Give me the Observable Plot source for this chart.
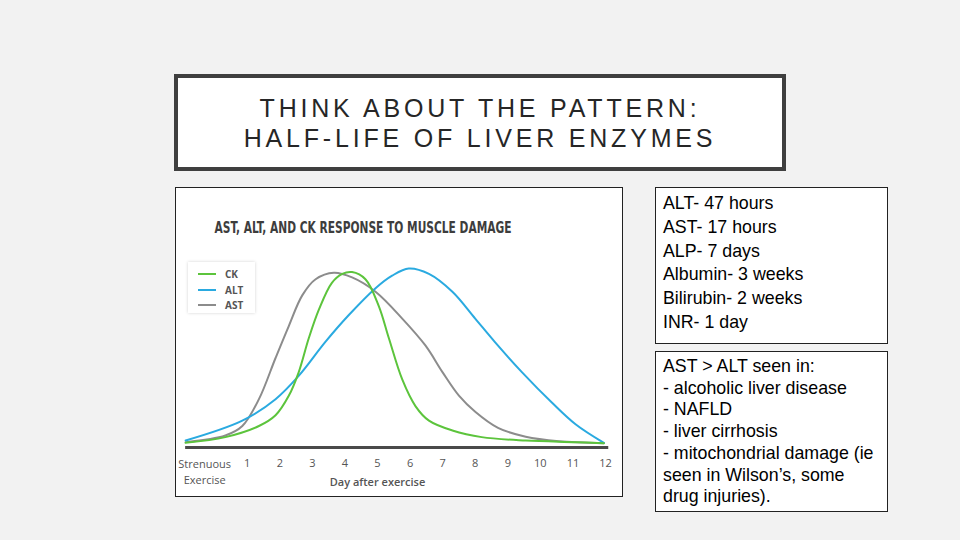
<!DOCTYPE html>
<html><head><meta charset="utf-8">
<script src="https://cdn.jsdelivr.net/npm/d3@7"></script>
<script src="https://cdn.jsdelivr.net/npm/@observablehq/plot@0.6"></script>
<style>
html,body{margin:0;padding:0;background:#f2f2f2;}
#slide{position:relative;width:960px;height:540px;background:#f2f2f2;overflow:hidden;font-family:"Liberation Sans",Arial,sans-serif;}
#titlebox{position:absolute;left:174px;top:74px;width:604px;height:89px;border:4px solid #3f3f3f;background:#fff;}
#titlebox div{position:absolute;left:0;right:0;text-align:center;font-size:25px;letter-spacing:3.8px;color:#262626;line-height:30px;white-space:nowrap;}
#chartbox{position:absolute;left:175px;top:187px;width:448px;height:310px;border:1px solid #222;background:#fff;box-sizing:border-box;overflow:hidden;}
#chartbox svg{position:absolute;left:0;top:0;}
#legend{position:absolute;left:12px;top:74px;width:67px;height:51px;background:#fff;box-shadow:0 0 3px rgba(0,0,0,0.18);}
.lg{position:absolute;left:10px;height:12px;font:bold 10px "Open Sans","DejaVu Sans",sans-serif;color:#555;}
.lg span.ln{position:absolute;left:0;top:5px;width:18px;height:2px;}
.lg span.tx{position:absolute;left:27px;top:-1px;}
.box{position:absolute;left:655px;width:233px;background:#fff;border:1px solid #222;box-sizing:border-box;font-size:17.8px;color:#000;padding-left:7px;white-space:nowrap;}
</style></head>
<body>
<div id="slide">
  <div id="titlebox">
    <div style="top:15px">THINK ABOUT THE PATTERN:</div>
    <div style="top:45px">HALF-LIFE OF LIVER ENZYMES</div>
  </div>
  <div id="chartbox"></div>
  <div class="box" id="box1" style="top:187px;height:157px;line-height:23.8px;padding-top:4px;"></div>
  <div class="box" id="box2" style="top:351px;height:161px;line-height:21.7px;padding-top:4px;"></div>
</div>
<script>
// ---- data ----
const chartTitle = "AST, ALT, AND CK RESPONSE TO MUSCLE DAMAGE";
const seriesNames = ["CK", "ALT", "AST"];
const seriesColors = ["#5cc43c", "#2aaae0", "#8c8c8c"];
const dayTicks = [1,2,3,4,5,6,7,8,9,10,11,12];
const startLabel = "Strenuous\nExercise";
const xLabel = "Day after exercise";

const altDays = [-0.89,0.85,1.87,2.58,3.4,4.12,4.94,5.45,5.96,6.58,7.3,8.0,8.6,9.44,10.36,11.08,11.95];
const altVals = [3.9,15,27,40,59,74,89,96,100,97,87,72,59,42,25,13,2.6];

const astDays = [-0.89,0.33,0.85,1.36,1.87,2.28,2.69,3.1,3.66,4.22,4.94,5.76,6.47,7.0,7.5,8.0,8.7,9.55,10.57,11.95];
const astVals = [3,6.7,12,27,50,68,85,94,97.6,95,87,72,57,42,29,20,11,6,3.5,2.4];

const ckDays = [-0.89,0.33,1.36,1.87,2.28,2.58,2.89,3.2,3.6,3.92,4.22,4.63,5.04,5.35,5.76,6.17,6.58,7.3,8.2,9.55,11.08,11.95];
const ckVals = [2.6,5.8,12,18,29,42,61,77,92,97,98,94,79,61,38,23,15,9.5,5.8,3.9,3,2.4];

const halfLifeLines = ["ALT- 47 hours","AST- 17 hours","ALP- 7 days","Albumin- 3 weeks","Bilirubin- 2 weeks","INR- 1 day"];
const astAltLines = ["AST &gt; ALT seen in:","- alcoholic liver disease","- NAFLD","- liver cirrhosis","- mitochondrial damage (ie","seen in Wilson’s, some","drug injuries)."];

// ---- build tables ----
const rows = [];
ckDays.forEach((d,i)=>rows.push({series:"CK", day:d, value:ckVals[i]}));
altDays.forEach((d,i)=>rows.push({series:"ALT", day:d, value:altVals[i]}));
astDays.forEach((d,i)=>rows.push({series:"AST", day:d, value:astVals[i]}));
const drawOrder = ["AST","ALT","CK"];
const ordered = drawOrder.flatMap(s => rows.filter(r => r.series === s));

const axisStart = d3.min(rows, r => r.day);
const axisEnd = 12.1;

const tickFont = "'Open Sans','DejaVu Sans',sans-serif";

const plot = Plot.plot({
  width: 446,
  height: 308,
  margin: 0,
  style: {background: "transparent", overflow: "visible"},
  x: {domain: [1, 12], range: [70.7, 429], axis: null},
  y: {domain: [0, 100], range: [259, 80], axis: null},
  color: {domain: seriesNames, range: seriesColors},
  marks: [
    Plot.line(ordered, {x: "day", y: "value", z: "series", stroke: "series", strokeWidth: 2, curve: "catmull-rom"}),
    Plot.ruleY([0], {x1: axisStart, x2: axisEnd, stroke: "#4a4a4a", strokeWidth: 3}),
    Plot.text(dayTicks, {x: d => d, y: 0, dy: 16, text: d => String(d), fontSize: 11, fill: "#555", fontFamily: tickFont}),
    Plot.text([startLabel], {x: 0, y: 0, dx: -10, dy: 9, text: d => d, lineAnchor: "top", lineHeight: 1.45, fontSize: 11, fill: "#555", fontFamily: tickFont}),
    Plot.text([xLabel], {x: 5, y: 0, dy: 35, text: d => d, fontSize: 11, fontWeight: 600, fill: "#555", fontFamily: tickFont}),
    Plot.text([chartTitle], {frameAnchor: "top-left", dx: 38, dy: 40, text: d => d, textAnchor: "start", lineAnchor: "middle", fontSize: 15, fontWeight: "bold", fill: "#3d3d3d", fontFamily: "'Liberation Sans Narrow','DejaVu Sans Condensed','Roboto',sans-serif", className: "ctitle"})
  ]
});
// condense the chart title to the narrow width of the original artwork
plot.querySelectorAll(".ctitle text").forEach(t => {
  t.setAttribute("textLength", "297");
  t.setAttribute("lengthAdjust", "spacingAndGlyphs");
});
const cb = document.getElementById("chartbox");
cb.appendChild(plot);

// legend
const lg = document.createElement("div");
lg.id = "legend";
seriesNames.forEach((s,i)=>{
  const e = document.createElement("div");
  e.className = "lg";
  e.style.top = (6 + i*15.5) + "px";
  e.innerHTML = `<span class="ln" style="background:${seriesColors[i]}"></span><span class="tx">${s}</span>`;
  lg.appendChild(e);
});
cb.appendChild(lg);

document.getElementById("box1").innerHTML = halfLifeLines.join("<br>");
document.getElementById("box2").innerHTML = astAltLines.join("<br>");
</script>
</body></html>
